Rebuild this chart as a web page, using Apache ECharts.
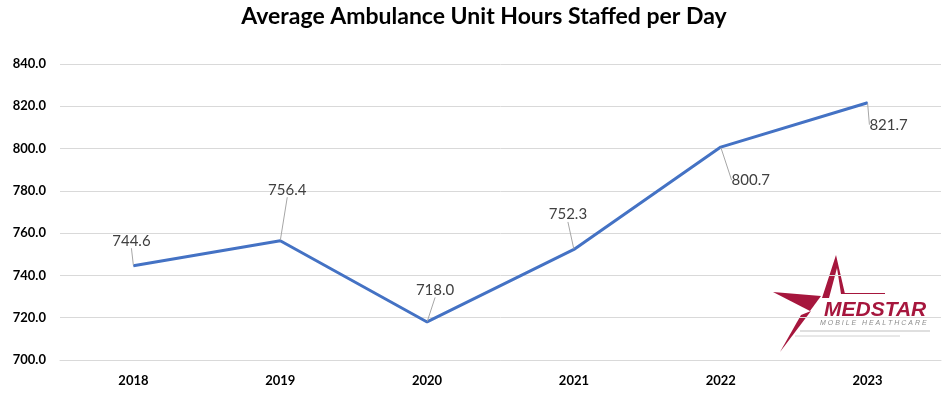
<!DOCTYPE html>
<html>
<head>
<meta charset="utf-8">
<script src="https://cdn.jsdelivr.net/npm/echarts@6/dist/echarts.min.js"></script>
<style>
  html, body { margin: 0; padding: 0; background: #fff; }
  #chart { width: 943px; height: 397px; }
</style>
</head>
<body>
<div id="chart"></div>
<script>
const years = ['2018', '2019', '2020', '2021', '2022', '2023']
const hours = [744.6, 756.4, 718.0, 752.3, 800.7, 821.7]
const yTicks = { min: 700, max: 840, step: 20 }
// where each value label sits relative to its point (px)
const labelOffsets = [[-2, -25], [7, -51], [8, -32], [-6, -35], [30, 33], [21, 22]]

const red = '#a6163d'
let myChart = echarts.init(document.getElementById('chart'))
let option = {
  animation: false,
  title: {
    text: 'Average Ambulance Unit Hours Staffed per Day',
    left: 479,
    textAlign: 'center',
    top: 0,
    textStyle: { fontFamily: 'Lato', fontSize: 23, fontWeight: 'bold', color: '#000' }
  },
  grid: { left: 60, right: 2, top: 64, bottom: 37 },
  xAxis: {
    type: 'category',
    data: years,
    boundaryGap: true,
    axisLine: { show: true, lineStyle: { color: '#d9d9d9' } },
    axisTick: { show: false },
    axisLabel: { fontFamily: 'Lato', fontSize: 13, fontWeight: 'bold', color: '#000', margin: 14 }
  },
  yAxis: {
    type: 'value',
    min: yTicks.min,
    max: yTicks.max,
    interval: yTicks.step,
    axisLine: { show: false },
    axisTick: { show: false },
    splitLine: { lineStyle: { color: '#d9d9d9' } },
    axisLabel: {
      fontFamily: 'Lato', fontSize: 13, fontWeight: 'bold', color: '#000', margin: 14,
      formatter: v => v.toFixed(1)
    }
  },
  series: [{
    type: 'line',
    data: hours,
    symbol: 'circle',
    symbolSize: 1,
    itemStyle: { color: '#4472c4' },
    lineStyle: { color: '#4472c4', width: 3 },
    label: {
      show: true,
      position: 'inside',
      fontFamily: 'Lato',
      fontSize: 15,
      color: '#404040',
      formatter: p => p.value.toFixed(1)
    },
    labelLine: { show: true, lineStyle: { color: '#a6a6a6', width: 1 } },
    labelLayout: function (params) {
      let o = labelOffsets[params.dataIndex]
      return { dx: o[0], dy: o[1] }
    }
  }],
  graphic: [
    {
      type: 'polygon', silent: true,
      shape: { points: [[836, 255], [822, 298], [829, 298], [837, 268], [841, 294], [845, 294]] },
      style: { fill: red }
    },
    {
      type: 'polygon', silent: true,
      shape: { points: [[773, 292], [821, 296], [810, 311]] },
      style: { fill: red }
    },
    {
      type: 'polygon', silent: true,
      shape: { points: [[780, 352], [801, 315], [811, 311]] },
      style: { fill: red }
    },
    {
      type: 'line', silent: true,
      shape: { x1: 842, y1: 293.5, x2: 885, y2: 293.5 },
      style: { stroke: red, lineWidth: 1 }
    },
    {
      type: 'text', left: 824, top: 300, silent: true,
      style: { text: 'MEDSTAR', fill: red, font: 'italic bold 21px "Liberation Sans"' }
    },
    {
      type: 'text', left: 820, top: 320, silent: true,
      style: { text: 'M O B I L E   H E A L T H C A R E', fill: '#8c8c8c', font: 'italic 7px "Liberation Sans"' }
    },
    {
      type: 'line', silent: true,
      shape: { x1: 800, y1: 331, x2: 930, y2: 331 },
      style: { stroke: '#bfbfbf', lineWidth: 1 }
    },
    {
      type: 'line', silent: true,
      shape: { x1: 795, y1: 336, x2: 900, y2: 336 },
      style: { stroke: '#d0d0d0', lineWidth: 1 }
    }
  ]
}
myChart.setOption(option)
window.addEventListener('resize', function () {
  myChart.resize()
})
</script>
</body>
</html>
